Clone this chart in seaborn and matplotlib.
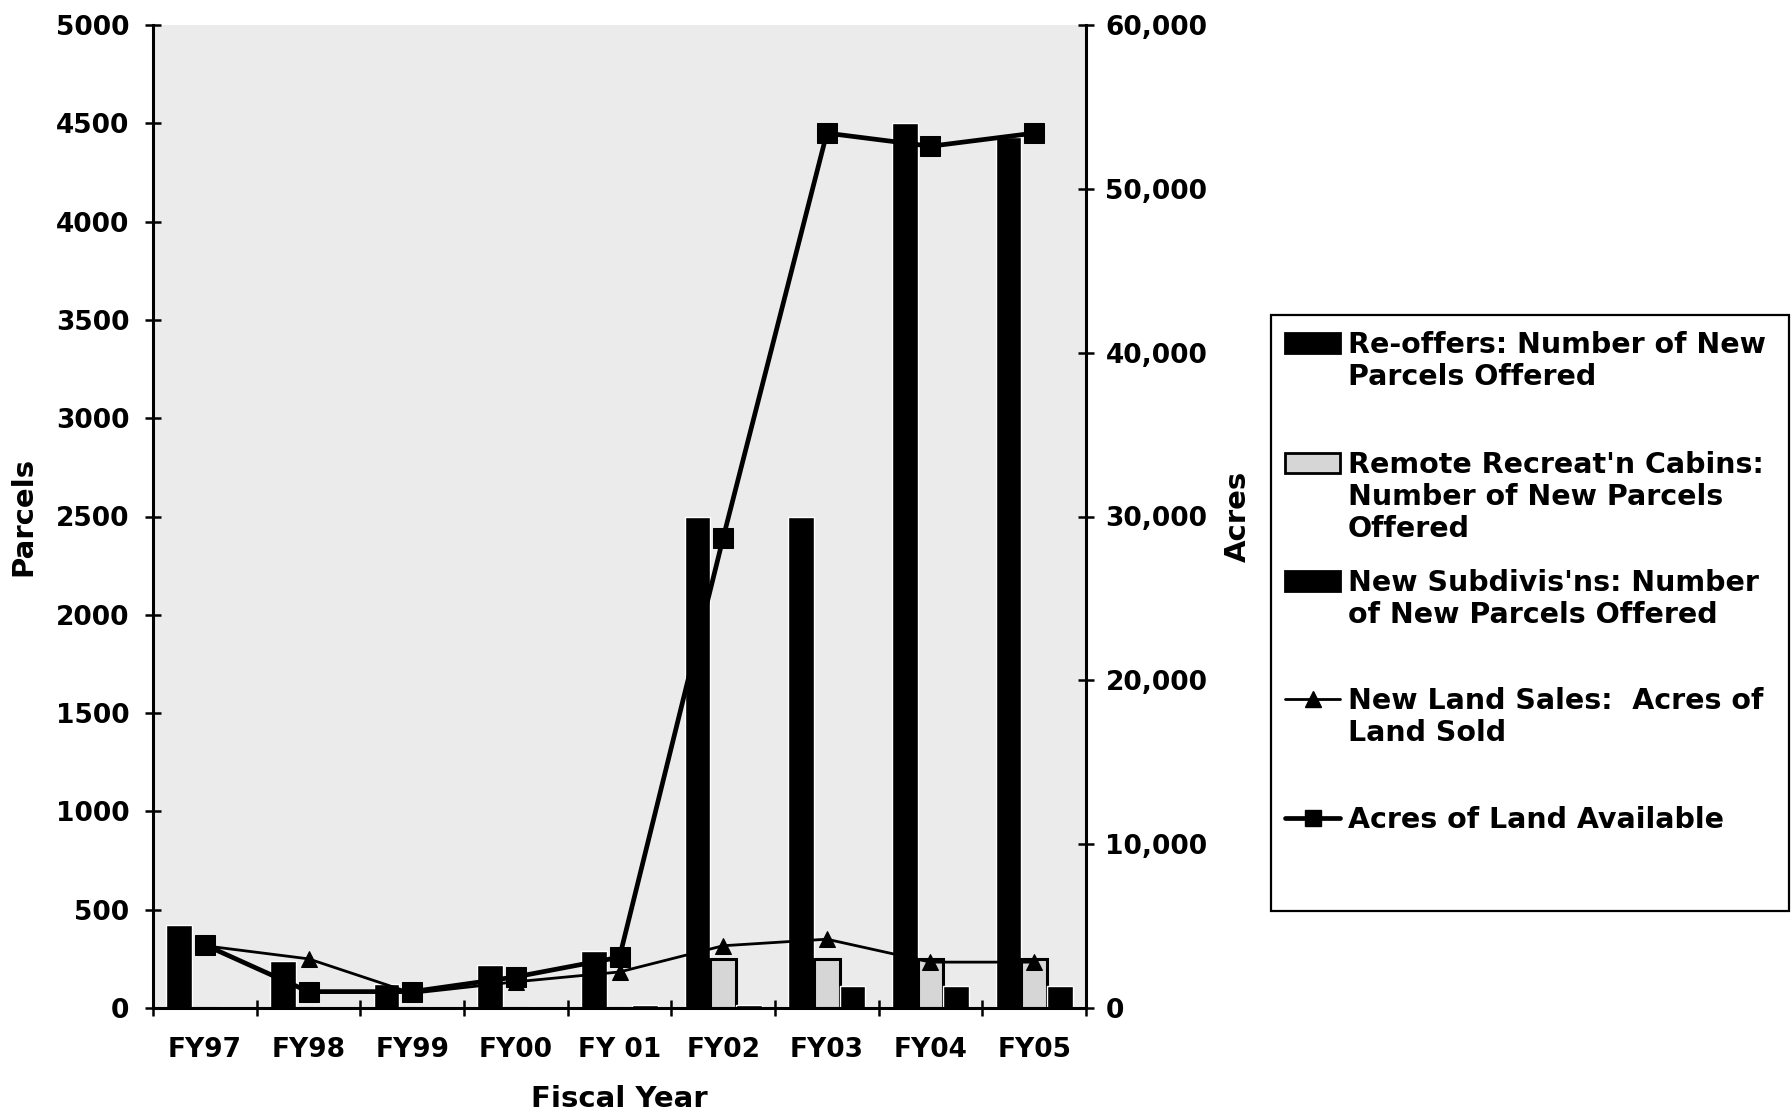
import numpy as np
import pandas as pd
import matplotlib
matplotlib.use("Agg")
import matplotlib.pyplot as plt
import seaborn as sns
from matplotlib.patches import Rectangle
from matplotlib.lines import Line2D

# ---- data -------------------------------------------------------------
years = ["FY97", "FY98", "FY99", "FY00", "FY 01", "FY02", "FY03", "FY04", "FY05"]
reoffers = [420, 240, 120, 220, 290, 2500, 2500, 4500, 4430]
cabins = [0, 0, 0, 0, 0, 250, 250, 250, 250]
subdivisions = [0, 0, 0, 0, 15, 15, 110, 110, 110]
acres_sold = [3800, 3000, 900, 1600, 2200, 3800, 4200, 2800, 2800]
acres_available = [3850, 1000, 1000, 1900, 3100, 28700, 53400, 52600, 53400]

parcel_ticks = list(range(0, 5001, 500))
acre_ticks = list(range(0, 60001, 10000))

bar_names = ["Re-offers: Number of New Parcels Offered",
             "Remote Recreat'n Cabins: Number of New Parcels Offered",
             "New Subdivis'ns: Number of New Parcels Offered"]

# ---- style ------------------------------------------------------------
sns.set_theme(style="white")
plt.rcParams["font.family"] = ["DejaVu Sans"]
plt.rcParams["font.weight"] = "bold"
plt.rcParams["text.color"] = "black"
plt.rcParams["axes.labelcolor"] = "black"
plt.rcParams["xtick.color"] = "black"
plt.rcParams["ytick.color"] = "black"

W, H = 1792, 1113
fig = plt.figure(figsize=(W / 100, H / 100), dpi=100)
fig.patch.set_facecolor("white")

L, R, T, B = 153, 1086, 25, 1008
ax = fig.add_axes([L / W, 1 - B / H, (R - L) / W, (B - T) / H])
ax.set_facecolor("#ebebeb")

bar_df = pd.DataFrame({
    "year": years * 3,
    "parcels": reoffers + cabins + subdivisions,
    "series": [bar_names[0]] * 9 + [bar_names[1]] * 9 + [bar_names[2]] * 9,
})
sns.barplot(data=bar_df, x="year", y="parcels", hue="series",
            hue_order=bar_names, palette=["black", "#d6d6d6", "black"],
            saturation=1, width=0.74, legend=False, ax=ax)
for patch in ax.containers[1]:
    patch.set_edgecolor("black")
    patch.set_linewidth(2.2)

ax.set_ylim(0, 5000)
ax.set_xlim(-0.5, 8.5)
ax.set_yticks(parcel_ticks)
ax.set_yticklabels([str(v) for v in parcel_ticks])

# acres on the secondary axis
ax2 = ax.twinx()
pos = np.arange(len(years))
sns.lineplot(x=pos, y=acres_sold, ax=ax2, color="black", linewidth=2.0,
             marker="^", markersize=12, markeredgecolor="black")
sns.lineplot(x=pos, y=acres_available, ax=ax2, color="black", linewidth=3.4,
             marker="s", markersize=14, markeredgecolor="black")
ax2.set_ylim(0, 60000)
ax2.set_xlim(-0.5, 8.5)
ax2.set_yticks(acre_ticks)
ax2.set_yticklabels([f"{v:,}" for v in acre_ticks])

# axes frame and ticks
for a in (ax, ax2):
    a.spines["top"].set_visible(False)
    for s in ("left", "right", "bottom"):
        a.spines[s].set_color("black")
        a.spines[s].set_linewidth(2.2)
ax.spines["right"].set_visible(False)
ax2.spines["left"].set_visible(False)
ax2.spines["bottom"].set_visible(False)

TICK_FS = 19
ax.set_xticks(np.arange(-0.5, 9.0, 1.0), minor=True)
ax.tick_params(axis="x", which="major", length=0, pad=21, labelsize=TICK_FS)
ax.tick_params(axis="x", which="minor", direction="inout", length=12,
               width=1.8, color="black", bottom=True)
ax.tick_params(axis="y", direction="inout", length=12, width=1.8,
               color="black", left=True, pad=11, labelsize=TICK_FS)
ax2.tick_params(axis="y", direction="inout", length=12, width=1.8,
                color="black", right=True, pad=8, labelsize=TICK_FS)
for lab in ax.get_xticklabels() + ax.get_yticklabels() + ax2.get_yticklabels():
    lab.set_fontweight("bold")

ax.set_xlabel("Fiscal Year", fontsize=21, fontweight="bold", va="center")
ax.xaxis.set_label_coords(0.5, -0.0925)
ax.set_ylabel("Parcels", fontsize=21, fontweight="bold", va="center")
ax.yaxis.set_label_coords(-0.139, 0.5)
ax2.set_ylabel("Acres", fontsize=21, fontweight="bold", va="center",
               rotation=90)
ax2.yaxis.set_label_coords(1.163, 0.5)

# ---- legend block -----------------------------------------------------
def fx(px):
    return px / W


def fy(py):
    return 1 - py / H


fig.patches.append(Rectangle((fx(1271), fy(911)), fx(1789) - fx(1271),
                             fy(315) - fy(911), transform=fig.transFigure,
                             facecolor="white", edgecolor="black",
                             linewidth=1.6, zorder=1))

legend_rows = [
    ("bar_black", [(343, "Re-offers: Number of New"), (375, "Parcels Offered")]),
    ("bar_gray", [(463, "Remote Recreat'n Cabins:"),
                  (495, "Number of New Parcels"), (527, "Offered")]),
    ("bar_black", [(581, "New Subdivis'ns: Number"),
                   (613, "of New Parcels Offered")]),
    ("tri", [(699, "New Land Sales:  Acres of"), (731, "Land Sold")]),
    ("sq", [(818, "Acres of Land Available")]),
]
hx0, hx1, tx = 1285, 1340, 1348
for kind, lines in legend_rows:
    y0 = lines[0][0]
    if kind in ("bar_black", "bar_gray"):
        fc = "black" if kind == "bar_black" else "#d6d6d6"
        fig.patches.append(Rectangle((fx(hx0), fy(y0 + 10)), fx(hx1) - fx(hx0),
                                     fy(y0 - 10) - fy(y0 + 10),
                                     transform=fig.transFigure, facecolor=fc,
                                     edgecolor="black", linewidth=2, zorder=2))
    else:
        mk, lw, ms = ("^", 2.0, 11) if kind == "tri" else ("s", 3.4, 11)
        fig.lines.append(Line2D([fx(hx0), fx(hx1)], [fy(y0), fy(y0)],
                                transform=fig.transFigure, color="black",
                                linewidth=lw, zorder=2))
        fig.lines.append(Line2D([fx((hx0 + hx1) / 2)], [fy(y0)],
                                transform=fig.transFigure, color="black",
                                marker=mk, markersize=ms, zorder=3))
    for yy, txt in lines:
        fig.text(fx(tx), fy(yy + 10), txt, fontsize=20.5, fontweight="bold",
                 ha="left", va="baseline", color="black")

fig.savefig("out.png", dpi=100, facecolor="white")
